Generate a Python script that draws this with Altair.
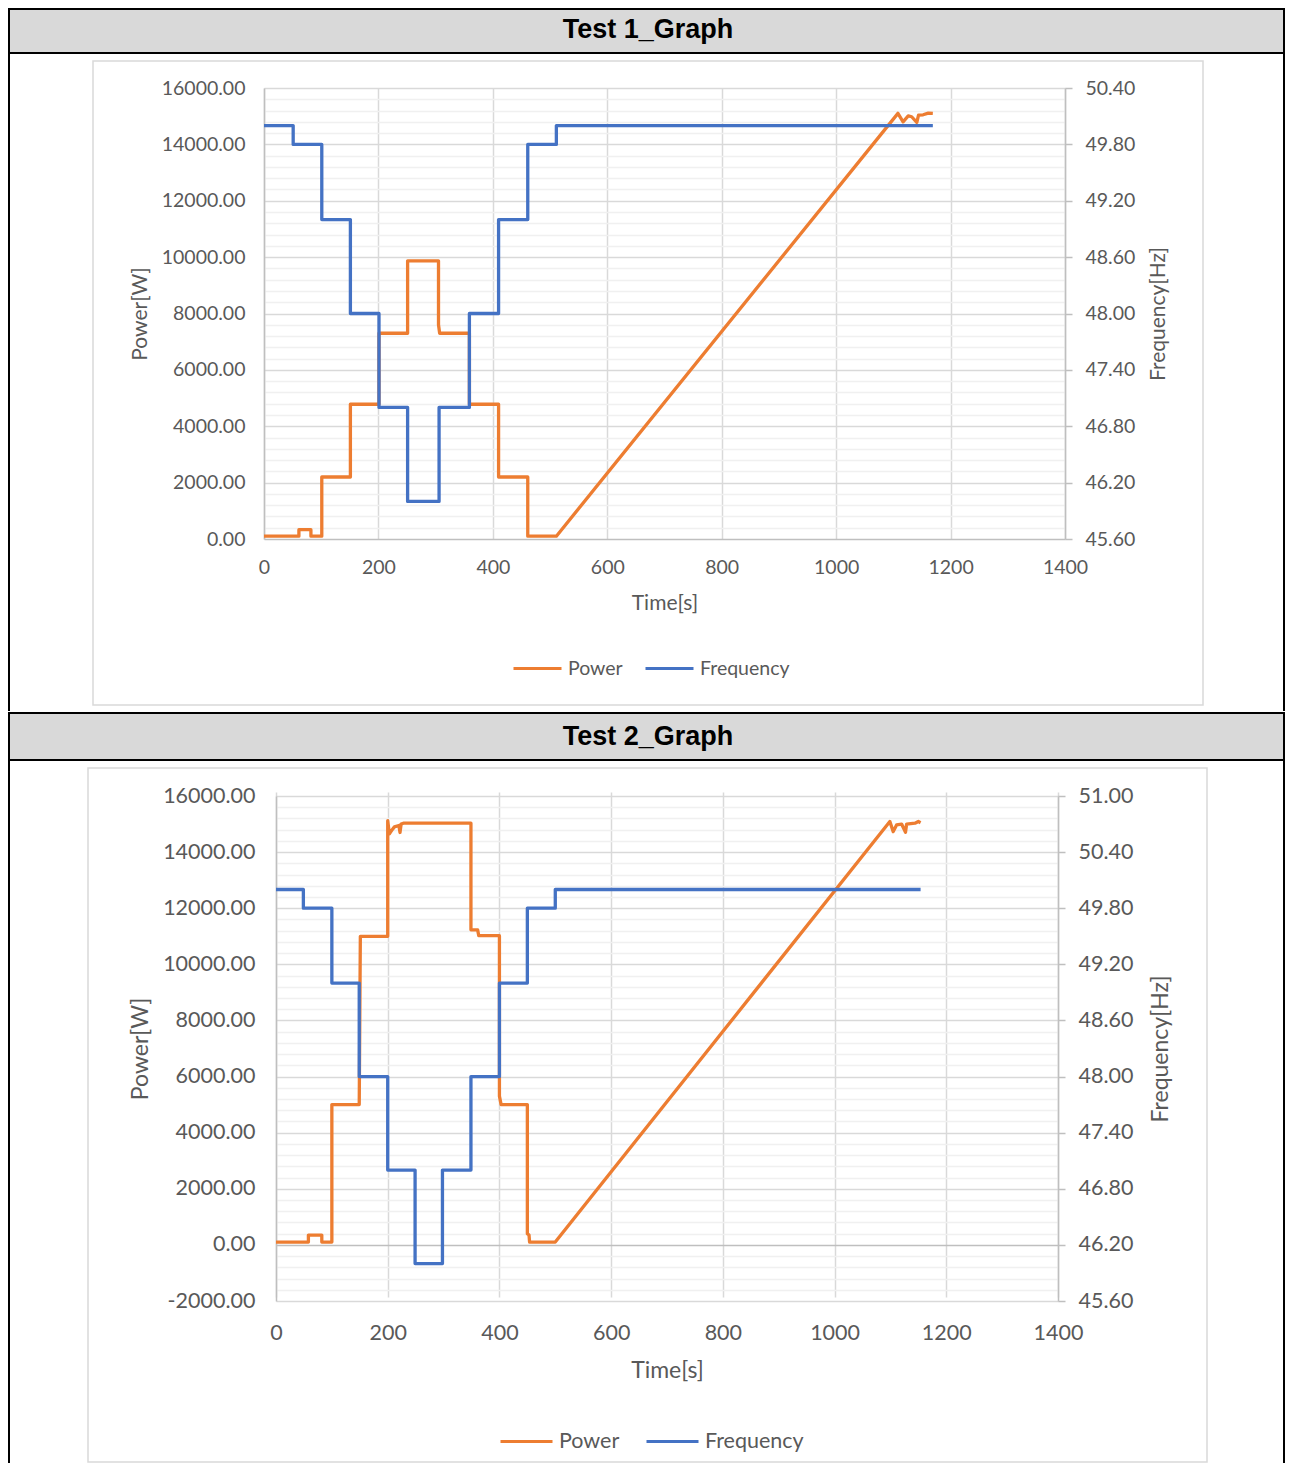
import altair as alt
import pandas as pd

# ---------------- data ----------------
panel_titles = ["Test 1_Graph", "Test 2_Graph"]
series_names = ["Power", "Frequency"]
x_tick_values = [0, 200, 400, 600, 800, 1000, 1200, 1400]

# Test 1
t1_power = [0, 61, 61, 82, 82, 101, 101, 151, 151, 201, 201, 251, 251, 305, 305, 307,
            359, 359, 410, 410, 461, 461, 511, 1108, 1117, 1126, 1132, 1141, 1144, 1152, 1161, 1169]
p1_power = [100, 100, 330, 330, 100, 100, 2200, 2200, 4780, 4780, 7300, 7300, 9870, 9870, 7600, 7300,
            7300, 4780, 4780, 2200, 2200, 100, 100, 15100, 14800, 15010, 14980, 14780, 15040, 15050, 15110, 15100]
t1_freq = [0, 51, 51, 101, 101, 151, 151, 201, 201, 251, 251, 306, 306, 359, 359, 410, 410, 461, 461, 511, 511, 1169]
f1_freq = [50.0, 50.0, 49.8, 49.8, 49.0, 49.0, 48.0, 48.0, 47.0, 47.0, 46.0, 46.0, 47.0, 47.0, 48.0, 48.0,
           49.0, 49.0, 49.8, 49.8, 50.0, 50.0]
p1_ticks = [0, 2000, 4000, 6000, 8000, 10000, 12000, 14000, 16000]
f1_ticks = [45.6, 46.2, 46.8, 47.4, 48.0, 48.6, 49.2, 49.8, 50.4]

# Test 2
t2_power = [0, 58, 58, 82, 82, 100, 100, 149, 151, 200, 200, 203, 208, 212, 220, 222, 224, 228,
            349, 349, 361, 363, 400, 400, 403, 450, 450, 453, 454, 500, 1099, 1105, 1111, 1120, 1127,
            1129, 1144, 1150, 1154]
p2_power = [100, 100, 350, 350, 100, 100, 5000, 5000, 11000, 11000, 15120, 14650, 14800, 14900, 14950,
            14700, 15000, 15030, 15030, 11230, 11230, 11020, 11020, 5300, 5000, 5000, 400, 350, 100,
            100, 15090, 14730, 14970, 15000, 14710, 15000, 15030, 15090, 15050]
t2_freq = [0, 49, 49, 100, 100, 149, 149, 200, 200, 249, 249, 298, 298, 349, 349, 400, 400, 450, 450, 500, 500, 1154]
f2_freq = [50.0, 50.0, 49.8, 49.8, 49.0, 49.0, 48.0, 48.0, 47.0, 47.0, 46.0, 46.0, 47.0, 47.0, 48.0, 48.0,
           49.0, 49.0, 49.8, 49.8, 50.0, 50.0]
p2_ticks = [-2000, 0, 2000, 4000, 6000, 8000, 10000, 12000, 14000, 16000]
f2_ticks = [45.6, 46.2, 46.8, 47.4, 48.0, 48.6, 49.2, 49.8, 50.4, 51.0]

# ---------------- styling ----------------
ORANGE = "#ED7D31"
BLUE = "#4472C4"
TXT = "#595959"
GRID = "#d9d9d9"
MINOR = "#f0f0f0"
AXIS = "#bfbfbf"
FONT = "Lato"


def panel(title, tp, pp, tf, ff, p_ticks, f_ticks, g):
    W, H = g["W"], g["H"]
    xr, yr = g["xr"], g["yr"]
    ymid = (yr[0] + yr[1]) / 2
    one = pd.DataFrame({"title": [title]})
    df_p = pd.DataFrame({"t": tp, "v": pp, "i": list(range(len(tp))), "s": series_names[0]})
    df_f = pd.DataFrame({"t": tf, "v": ff, "i": list(range(len(tf))), "s": series_names[1]})

    fx0, fx1, fy0, fy1 = g["frame"]
    frame = alt.Chart(one).mark_rect(fill="white", fillOpacity=0, strokeOpacity=0).encode(
        x=alt.value(fx0), x2=alt.value(fx1), y=alt.value(fy0), y2=alt.value(fy1))
    ex0, ey0, ex1, ey1 = g["excel"]
    excel = alt.Chart(one).mark_rect(fill="white", fillOpacity=0, stroke=GRID, strokeWidth=1.5).encode(
        x=alt.value(ex0), x2=alt.value(ex1), y=alt.value(ey0), y2=alt.value(ey1))
    hy0, hy1 = g["header"]
    header = alt.Chart(one).mark_rect(fill="#d9d9d9", stroke="black", strokeWidth=2).encode(
        x=alt.value(fx0 + 1), x2=alt.value(fx1 - 1), y=alt.value(hy0), y2=alt.value(hy1))
    htext = alt.Chart(one).mark_text(font="Liberation Sans", fontWeight="bold", fontSize=27,
                                     color="black", align="center", baseline="middle").encode(
        x=alt.value(g["htx"]), y=alt.value(g["hty"]), text="title:N")
    lrule = alt.Chart(one).mark_rule(color="black", strokeWidth=2).encode(
        x=alt.value(fx0 + 1), y=alt.value(fy0 + 1), y2=alt.value(fy1 - 1))
    rrule = alt.Chart(one).mark_rule(color="black", strokeWidth=2).encode(
        x=alt.value(fx1 - 1), y=alt.value(fy0 + 1), y2=alt.value(fy1 - 1))

    fs, ts = g["fs"], g["ts"]
    x_scale = alt.Scale(domain=[x_tick_values[0], x_tick_values[-1]], range=xr, nice=False, zero=False)
    x_axis = alt.Axis(values=x_tick_values, format="d", title="Time[s]", grid=True, gridColor=GRID,
                      gridWidth=1.5, domain=False, ticks=False, labelPadding=g["xpad"], labelFlush=False,
                      labelOverlap=False, labelFont=FONT, labelFontSize=fs, labelColor=TXT,
                      titleFont=FONT, titleFontSize=ts, titleFontWeight="normal", titleColor=TXT,
                      titleY=g["xty"], titleBaseline="middle")

    minor_vals = list(range(p_ticks[0], p_ticks[-1] + 1, 400))
    y_left = alt.Axis(orient="left", values=minor_vals, offset=g["loff"],
                      labelExpr="datum.value % 2000 === 0 ? (datum.value < 0 ? '-' + format(-datum.value, '.2f') : format(datum.value, '.2f')) : ''",
                      grid=True,
                      gridColor={"condition": [{"test": "datum.value === 0", "value": AXIS},
                                               {"test": "datum.value % 2000 === 0", "value": GRID}],
                                 "value": MINOR},
                      gridWidth=1.5, domain=True, domainColor=AXIS, domainWidth=1.5,
                      ticks=False, tickSize=0, labelPadding=g["lpad"], labelOverlap=False, labelFlush=False,
                      labelFont=FONT, labelFontSize=fs, labelColor=TXT,
                      title="Power[W]", titleFont=FONT, titleFontSize=ts, titleFontWeight="normal",
                      titleColor=TXT, titleAngle=270, titleX=g["ltx"], titleY=ymid,
                      titleBaseline="middle", titleAlign="center")
    y_right = alt.Axis(orient="right", values=f_ticks, format=".2f", grid=False,
                       domain=True, domainColor=AXIS, domainWidth=1.5,
                       ticks=True, tickSize=7, tickColor=AXIS, tickWidth=1.5,
                       labelPadding=g["rpad"], labelOverlap=False, labelFlush=False,
                       labelFont=FONT, labelFontSize=fs, labelColor=TXT,
                       title="Frequency[Hz]", titleFont=FONT, titleFontSize=ts, titleFontWeight="normal",
                       titleColor=TXT, titleAngle=270, titleX=g["rtx"], titleY=ymid,
                       titleBaseline="middle", titleAlign="center")

    color_scale = alt.Scale(domain=series_names, range=[ORANGE, BLUE])
    legend = alt.Legend(orient="none", legendX=g["lgx"], legendY=g["lgy"], direction="horizontal",
                        title=None, symbolType="stroke", symbolSize=g["sym"] ** 2, symbolStrokeWidth=3,
                        labelFont=FONT, labelFontSize=fs, labelColor=TXT, labelOffset=5,
                        columnPadding=g["colpad"], padding=0)

    power = alt.Chart(df_p).mark_line(strokeWidth=3.3, strokeJoin="round").encode(
        x=alt.X("t:Q", scale=x_scale, axis=x_axis),
        y=alt.Y("v:Q", scale=alt.Scale(domain=[p_ticks[0], p_ticks[-1]], range=yr, nice=False, zero=False),
                axis=y_left),
        color=alt.Color("s:N", scale=color_scale, legend=legend),
        order="i:Q")
    freq = alt.Chart(df_f).mark_line(strokeWidth=3.3, strokeJoin="round").encode(
        x=alt.X("t:Q", scale=x_scale, axis=x_axis),
        y=alt.Y("v:Q", scale=alt.Scale(domain=[f_ticks[0], f_ticks[-1]], range=yr, nice=False, zero=False),
                axis=y_right),
        color=alt.Color("s:N", scale=color_scale, legend=legend),
        order="i:Q")

    return alt.layer(frame, excel, header, htext, lrule, rrule, power, freq).resolve_scale(
        y="independent").properties(width=W, height=H)


# panel 1: plot origin at page (264, 88); panel 2: group origin at page (264, 792), data area from (276, 796)
g1 = dict(W=801, H=451, xr=[0, 801], yr=[451, 0], loff=0,
          frame=(-256, 1021, -80, 624), excel=(-171, -27, 939, 617),
          header=(-79, -35), htx=384, hty=-58, fs=19.5, ts=21, xpad=19, xty=64, lpad=19, ltx=-124,
          rpad=13, rtx=93, lgx=248, lgy=555, sym=48, colpad=16)
g2 = dict(W=794, H=509, xr=[12, 794], yr=[509, 4], loff=-12,
          frame=(-256, 1021, -80, 672), excel=(-176, -24, 943, 670),
          header=(-79, -32), htx=384, hty=-55, fs=21.5, ts=23, xpad=21, xty=69, lpad=21, ltx=-136,
          rpad=13, rtx=102, lgx=235, lgy=622, sym=52, colpad=20)

p1 = panel(panel_titles[0], t1_power, p1_power, t1_freq, f1_freq, p1_ticks, f1_ticks, g1)
p2 = panel(panel_titles[1], t2_power, p2_power, t2_freq, f2_freq, p2_ticks, f2_ticks, g2)

chart = alt.vconcat(p1, p2, spacing=0).resolve_scale(
    color="independent").resolve_legend(color="independent").properties(
    padding=0, background="white").configure_view(stroke=None)

chart.save("out.html", embed_options={"renderer": "svg", "actions": False})
